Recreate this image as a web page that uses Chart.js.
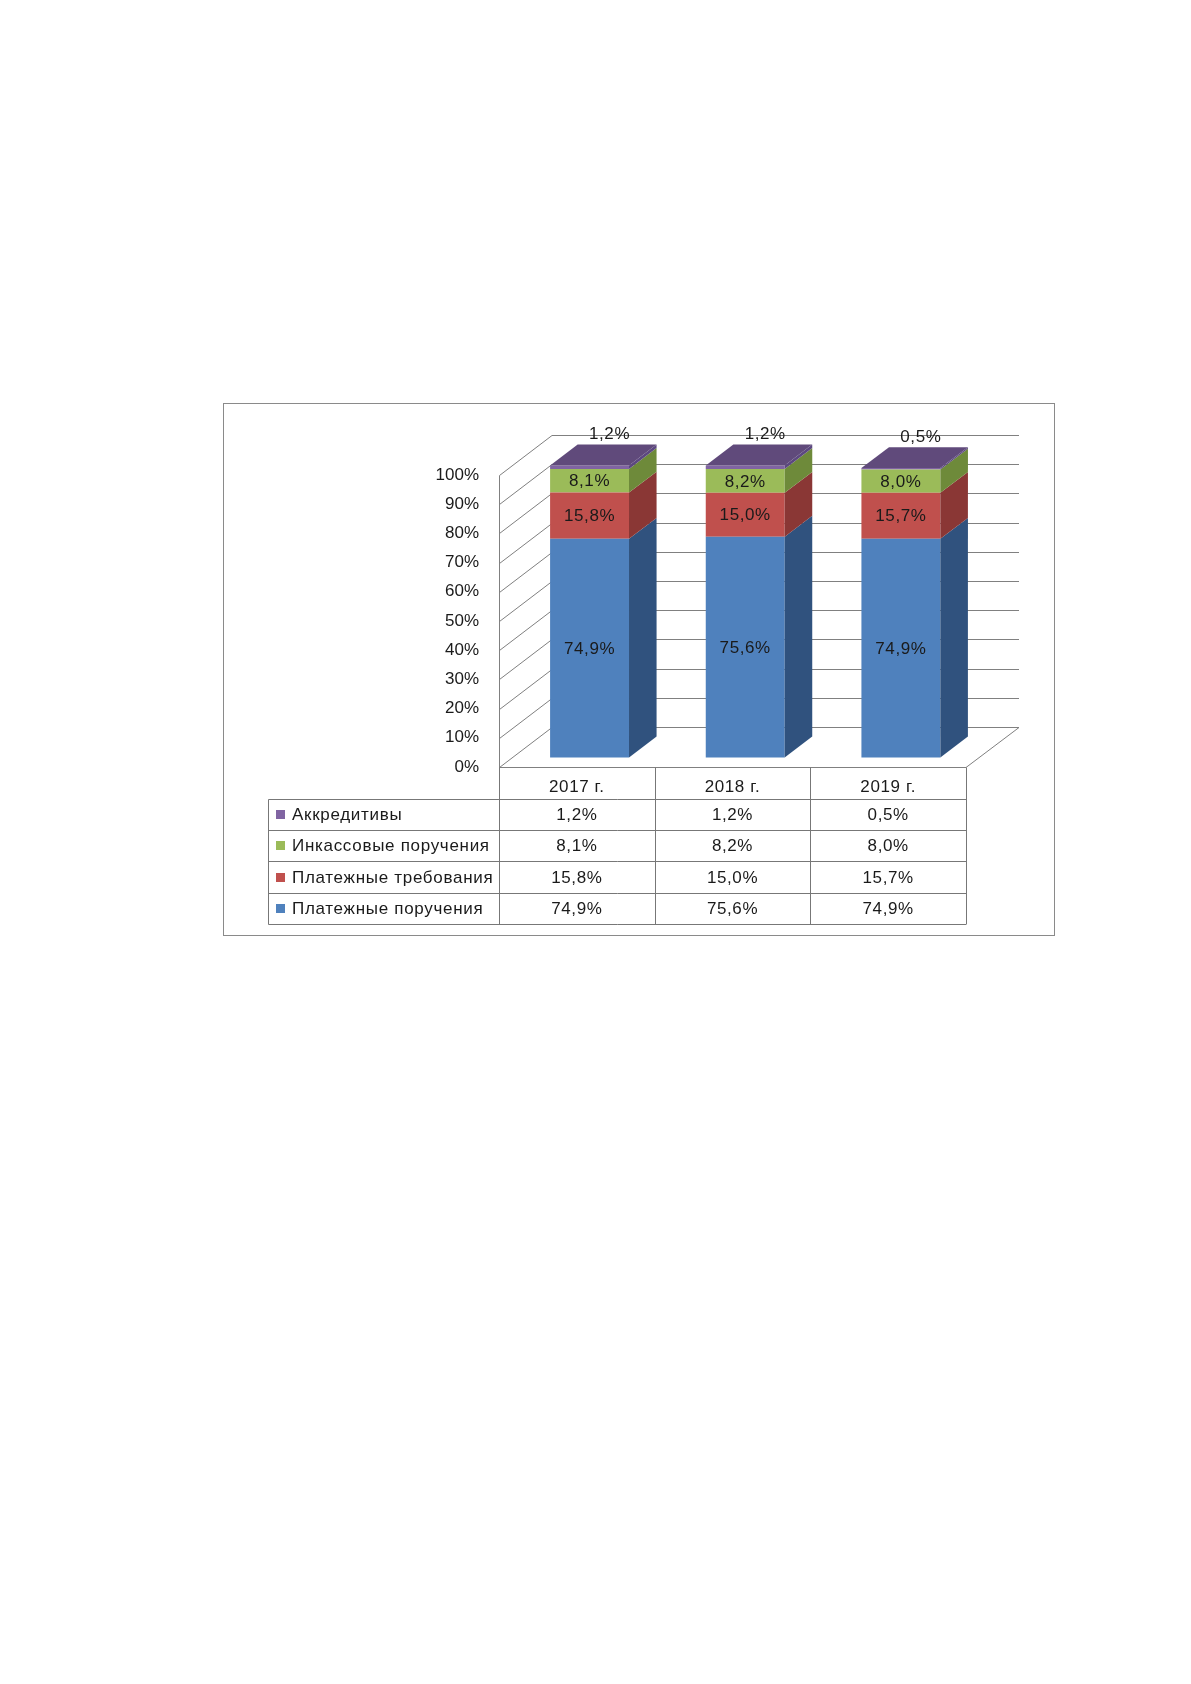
<!DOCTYPE html>
<html>
<head>
<meta charset="utf-8">
<script src="https://cdn.jsdelivr.net/npm/chart.js@4.4.1/dist/chart.umd.min.js"></script>
<style>
  body { margin: 0; background: #fff; }
  #box { position: absolute; left: 223px; top: 403px; width: 832px; height: 533px; }
</style>
</head>
<body>
<div id="box"><canvas id="chart" width="832" height="533"></canvas></div>
<script>
const categories = ['2017 г.', '2018 г.', '2019 г.'];
const seriesNames = ['Платежные поручения', 'Платежные требования', 'Инкассовые поручения', 'Аккредитивы'];
const paymentOrders = [74.9, 75.6, 74.9];
const paymentRequests = [15.8, 15.0, 15.7];
const collectionOrders = [8.1, 8.2, 8.0];
const letters = [1.2, 1.2, 0.5];
const yTicks = [0, 10, 20, 30, 40, 50, 60, 70, 80, 90, 100];

const frontColors = ['#4F81BD', '#C0504D', '#9BBB59', '#8064A2'];
const sideColors = ['#30527E', '#8A3735', '#6E8A3A', '#5C4880'];
const topColor = '#604A7B';
const gridColor = '#808080';
const tableColor = '#777777';
const textColor = '#1A1A1A';
const FONT = '17px "Liberation Sans", Arial, sans-serif';

// depth of the box (walls) and where the bars sit inside it
const DEPTH_X = 53, DEPTH_Y = 40;
const BAR_SHIFT = 0.24, BAR_DEPTH = 0.52;

const fmt = v => v.toFixed(1).replace('.', ',') + '%';

const pseudo3d = {
    id: 'pseudo3d',
    beforeDraw(chart) {
        const ctx = chart.ctx;
        ctx.save();
        ctx.fillStyle = '#fff';
        ctx.fillRect(0, 0, chart.width, chart.height);
        ctx.strokeStyle = '#8A8A8A';
        ctx.lineWidth = 1;
        ctx.strokeRect(0.5, 0.5, chart.width - 1, chart.height - 1);
        ctx.restore();
    },
    beforeDatasetsDraw(chart) {
        const { ctx, chartArea: a, scales: { y } } = chart;
        ctx.save();
        ctx.strokeStyle = gridColor;
        ctx.lineWidth = 1;
        ctx.beginPath();
        yTicks.forEach(v => {
            const py = Math.round(y.getPixelForValue(v)) + 0.5;
            ctx.moveTo(a.left + 0.5, py);
            ctx.lineTo(a.left + DEPTH_X, py - DEPTH_Y);
            ctx.lineTo(a.right + DEPTH_X, py - DEPTH_Y);
        });
        const y0 = Math.round(y.getPixelForValue(0)) + 0.5;
        const y100 = Math.round(y.getPixelForValue(100)) + 0.5;
        // left wall front edge
        ctx.moveTo(a.left + 0.5, y100);
        ctx.lineTo(a.left + 0.5, y0);
        // floor front and right edges
        ctx.moveTo(a.left, y0);
        ctx.lineTo(a.right, y0);
        ctx.lineTo(a.right + DEPTH_X, y0 - DEPTH_Y);
        ctx.stroke();
        ctx.restore();

        ctx.save();
        ctx.translate(DEPTH_X * BAR_SHIFT, -DEPTH_Y * BAR_SHIFT);
    },
    afterDatasetsDraw(chart) {
        const ctx = chart.ctx;
        const bx = DEPTH_X * BAR_DEPTH, by = DEPTH_Y * BAR_DEPTH;
        const last = chart.data.datasets.length - 1;
        chart.data.datasets.forEach((ds, di) => {
            chart.getDatasetMeta(di).data.forEach(el => {
                const p = el.getProps(['x', 'y', 'base', 'width'], true);
                const r = p.x + p.width / 2, l = p.x - p.width / 2;
                ctx.fillStyle = sideColors[di];
                ctx.beginPath();
                ctx.moveTo(r, p.y);
                ctx.lineTo(r + bx, p.y - by);
                ctx.lineTo(r + bx, p.base - by);
                ctx.lineTo(r, p.base);
                ctx.closePath();
                ctx.fill();
                if (di === last) {
                    ctx.fillStyle = topColor;
                    ctx.beginPath();
                    ctx.moveTo(l, p.y);
                    ctx.lineTo(l + bx, p.y - by);
                    ctx.lineTo(r + bx, p.y - by);
                    ctx.lineTo(r, p.y);
                    ctx.closePath();
                    ctx.fill();
                }
            });
        });
        // value labels
        ctx.font = FONT;
        ctx.letterSpacing = '0.6px';
        ctx.fillStyle = textColor;
        ctx.textAlign = 'center';
        ctx.textBaseline = 'middle';
        chart.data.datasets.forEach((ds, di) => {
            chart.getDatasetMeta(di).data.forEach((el, i) => {
                const p = el.getProps(['x', 'y', 'base'], true);
                if (di === last) {
                    ctx.fillText(fmt(ds.data[i]), p.x + 20, p.y - 31);
                } else {
                    ctx.fillText(fmt(ds.data[i]), p.x, (p.y + p.base) / 2 + 1);
                }
            });
        });
        ctx.restore();
    },
    afterDraw(chart) {
        const { ctx, chartArea: a, scales: { x, y } } = chart;
        const rowH = 31.3;
        const top = Math.round(y.getPixelForValue(0)) + 0.5;
        const tLeft = 45.5;
        const cellW = (a.right - a.left) / categories.length;
        const rows = [letters, collectionOrders, paymentRequests, paymentOrders];
        const rowColors = [frontColors[3], frontColors[2], frontColors[1], frontColors[0]];
        const rowNames = [seriesNames[3], seriesNames[2], seriesNames[1], seriesNames[0]];
        ctx.save();
        ctx.strokeStyle = tableColor;
        ctx.lineWidth = 1;
        ctx.beginPath();
        for (let i = 1; i <= rows.length + 1; i++) {
            const ry = Math.round(top + rowH * i) + 0.5;
            ctx.moveTo(tLeft, ry);
            ctx.lineTo(a.right, ry);
        }
        const bottom = Math.round(top + rowH * (rows.length + 1)) + 0.5;
        for (let c = 0; c <= categories.length; c++) {
            const cx = Math.round(a.left + c * cellW) + 0.5;
            ctx.moveTo(cx, top);
            ctx.lineTo(cx, bottom);
        }
        ctx.moveTo(tLeft, Math.round(top + rowH) + 0.5);
        ctx.lineTo(tLeft, bottom);
        ctx.stroke();

        ctx.font = FONT;
        ctx.letterSpacing = '0.6px';
        ctx.fillStyle = textColor;
        ctx.textBaseline = 'middle';
        ctx.textAlign = 'center';
        categories.forEach((c, i) => {
            ctx.fillText(c, x.getPixelForValue(i), top + rowH / 2 + 4);
        });
        rows.forEach((vals, r) => {
            const cy = top + rowH * (r + 1.5);
            ctx.textAlign = 'center';
            ctx.letterSpacing = '0.6px';
            ctx.fillStyle = textColor;
            vals.forEach((v, i) => ctx.fillText(fmt(v), x.getPixelForValue(i), cy + 1));
            ctx.fillStyle = rowColors[r];
            ctx.fillRect(53, Math.round(cy - 4.5), 9, 9);
            ctx.fillStyle = textColor;
            ctx.textAlign = 'left';
            ctx.letterSpacing = '0.7px';
            ctx.fillText(rowNames[r], 69, cy + 1);
        });
        ctx.restore();
    }
};

const datasets = [paymentOrders, paymentRequests, collectionOrders, letters].map((d, i) => ({
    label: seriesNames[i],
    data: d,
    backgroundColor: frontColors[i],
    borderWidth: 0,
    clip: false
}));

new Chart(document.getElementById('chart'), {
    type: 'bar',
    data: { labels: categories, datasets: datasets },
    options: {
        responsive: false,
        animation: false,
        layout: { padding: { left: 0, top: 72, right: 89, bottom: 169 } },
        datasets: { bar: { categoryPercentage: 1, barPercentage: 0.507 } },
        plugins: { legend: { display: false }, tooltip: { enabled: false } },
        scales: {
            x: { stacked: true, display: false },
            y: {
                stacked: true,
                min: 0,
                max: 100,
                afterFit(scale) { scale.width = 276; },
                afterBuildTicks(scale) { scale.ticks = yTicks.map(v => ({ value: v })); },
                grid: { display: false, drawTicks: false },
                border: { display: false },
                ticks: {
                    padding: 20,
                    color: textColor,
                    font: { family: '"Liberation Sans", Arial, sans-serif', size: 17 },
                    callback: v => v + '%'
                }
            }
        }
    },
    plugins: [pseudo3d]
});
</script>
</body>
</html>
